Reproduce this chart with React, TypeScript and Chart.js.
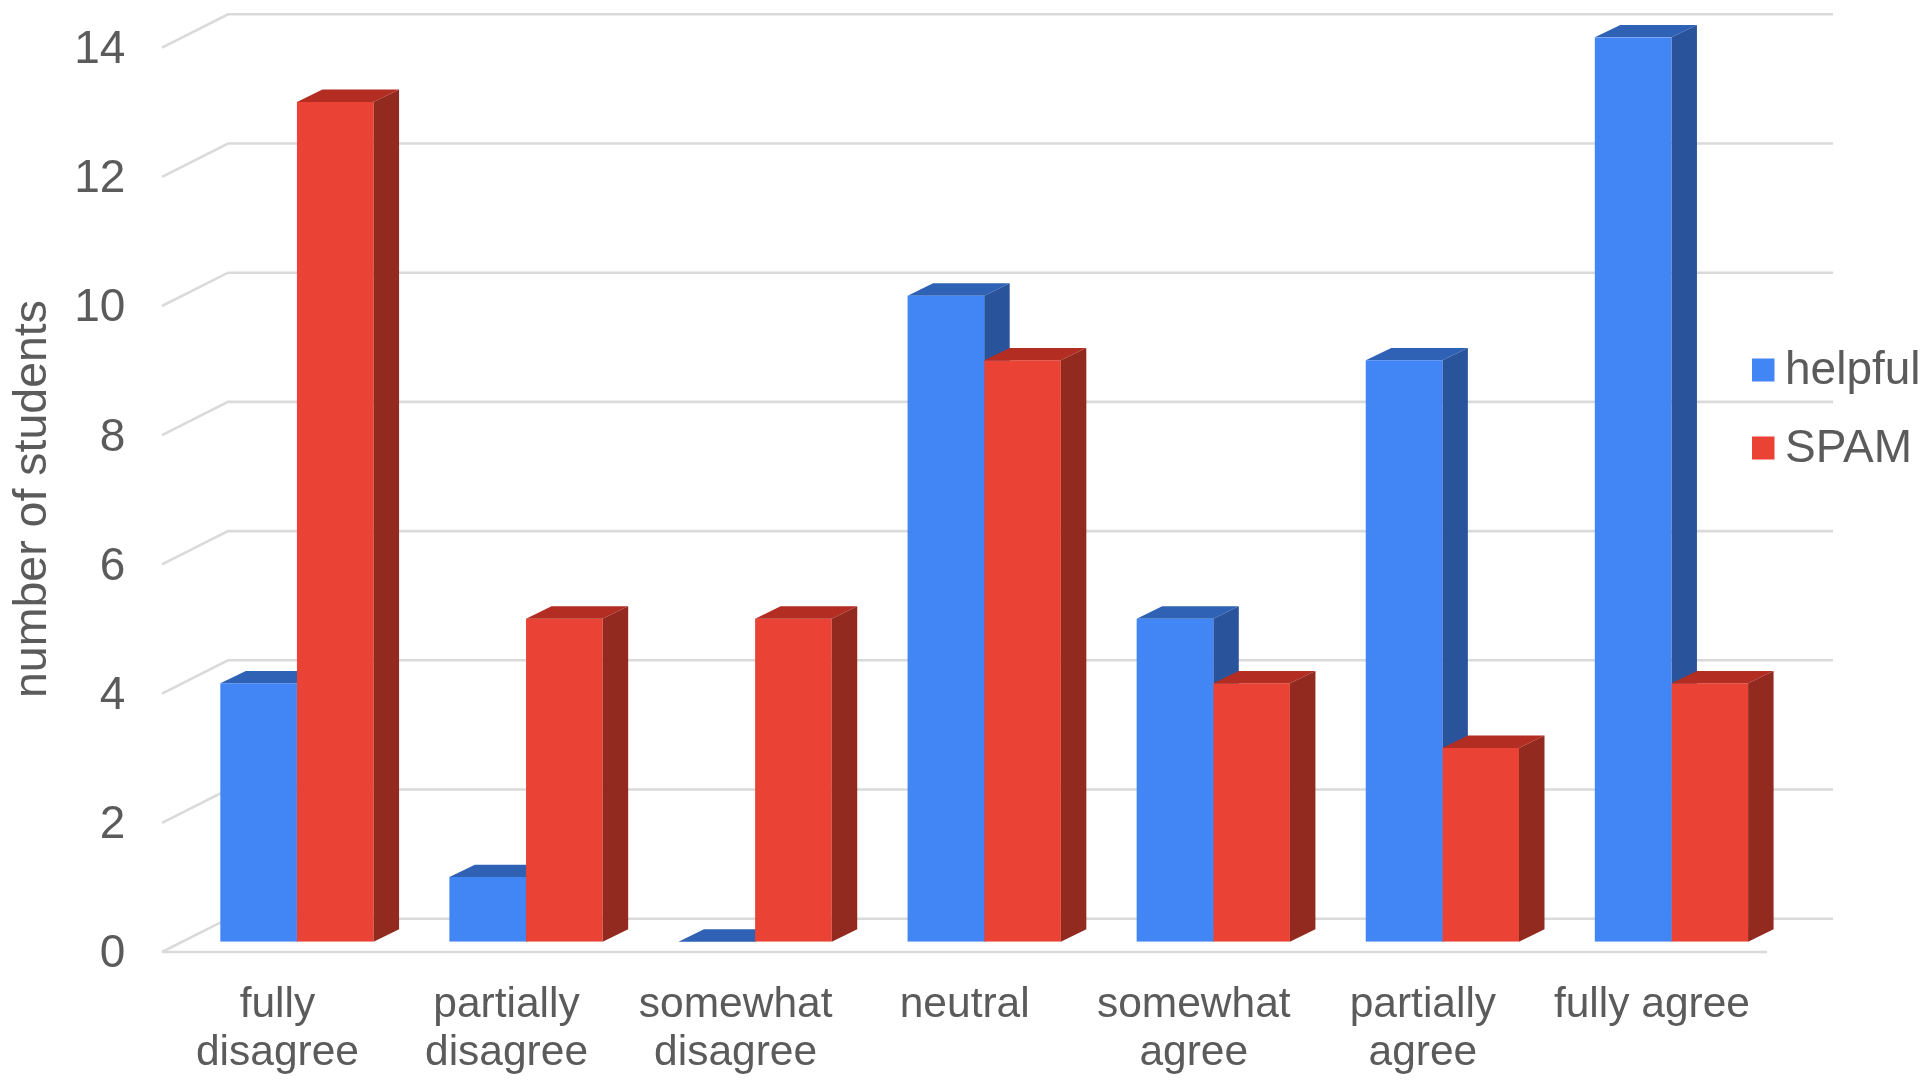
import React, { useEffect, useRef } from "react";
import { Chart, registerables } from "chart.js";

Chart.register(...registerables);

const categories: (string | string[])[] = [
  ["fully", "disagree"],
  ["partially", "disagree"],
  ["somewhat", "disagree"],
  "neutral",
  ["somewhat", "agree"],
  ["partially", "agree"],
  "fully agree",
];
const helpfulValues = [4, 1, 0, 10, 5, 9, 14];
const spamValues = [13, 5, 5, 9, 4, 3, 4];
const yAxisTitle = "number of students";

const FONT = '"Liberation Sans", Arial, sans-serif';
const TEXT = "#5b5b5b";
const GRID = "#dadada";
const DEPTH_X = 25.5;
const DEPTH_Y = 12.4;

const shades = [
  { top: "#2f62b5", side: "#29549c" },
  { top: "#b32d22", side: "#932a20" },
];

function drawDepth(chart: any, index: number) {
  const { ctx } = chart;
  const meta = chart.getDatasetMeta(index);
  ctx.save();
  meta.data.forEach((bar: any) => {
    const left = bar.x - bar.width / 2;
    const right = bar.x + bar.width / 2;
    const top = bar.y;
    const base = bar.base;
    ctx.fillStyle = shades[index].top;
    ctx.beginPath();
    ctx.moveTo(left, top);
    ctx.lineTo(left + DEPTH_X, top - DEPTH_Y);
    ctx.lineTo(right + DEPTH_X, top - DEPTH_Y);
    ctx.lineTo(right, top);
    ctx.closePath();
    ctx.fill();
    if (base - top > 0) {
      ctx.fillStyle = shades[index].side;
      ctx.beginPath();
      ctx.moveTo(right, top);
      ctx.lineTo(right + DEPTH_X, top - DEPTH_Y);
      ctx.lineTo(right + DEPTH_X, base - DEPTH_Y);
      ctx.lineTo(right, base);
      ctx.closePath();
      ctx.fill();
    }
  });
  ctx.restore();
}

const wallPlugin = {
  id: "wall3d",
  beforeDatasetsDraw(chart: any) {
    const { ctx, chartArea, scales } = chart;
    const frontLeft = chartArea.left - 20.4;
    const backLeft = chartArea.left + 45.6;
    const backRight = 1833;
    const frontRight = 1767;
    ctx.save();
    ctx.strokeStyle = GRID;
    ctx.lineWidth = 2.6;
    scales.y.ticks.forEach((tick: any) => {
      const y = scales.y.getPixelForValue(tick.value);
      ctx.beginPath();
      ctx.moveTo(frontLeft, y + 10.3);
      ctx.lineTo(backLeft, y - 23);
      ctx.lineTo(backRight, y - 23);
      ctx.stroke();
      if (tick.value === 0) {
        ctx.beginPath();
        ctx.moveTo(frontLeft, y + 10.3);
        ctx.lineTo(frontRight, y + 10.3);
        ctx.stroke();
      }
    });
    ctx.restore();
    drawDepth(chart, 0);
  },
  afterDatasetsDraw(chart: any) {
    drawDepth(chart, 1);
  },
  afterDraw(chart: any) {
    const { ctx, data } = chart;
    ctx.save();
    // axis title
    ctx.fillStyle = TEXT;
    ctx.font = `46.5px ${FONT}`;
    ctx.textAlign = "center";
    ctx.textBaseline = "middle";
    ctx.translate(33, 499);
    ctx.rotate(-Math.PI / 2);
    ctx.fillText(yAxisTitle, 0, 0);
    ctx.restore();
    // legend
    ctx.save();
    ctx.font = `46px ${FONT}`;
    ctx.textAlign = "left";
    ctx.textBaseline = "middle";
    data.datasets.forEach((ds: any, i: number) => {
      const cy = 370 + i * 78;
      ctx.fillStyle = ds.backgroundColor;
      ctx.fillRect(1752, cy - 11.5, 22.5, 23);
      ctx.fillStyle = TEXT;
      ctx.fillText(ds.label, 1785, cy + 1);
    });
    ctx.restore();
  },
};

export default function App() {
  const ref = useRef<HTMLCanvasElement | null>(null);

  useEffect(() => {
    document.body.style.margin = "0";
    const chart = new Chart(ref.current as HTMLCanvasElement, {
      type: "bar",
      data: {
        labels: categories as any,
        datasets: [
          { label: "helpful", data: helpfulValues, backgroundColor: "#4285f4", borderWidth: 0 },
          { label: "SPAM", data: spamValues, backgroundColor: "#ea4335", borderWidth: 0 },
        ],
      },
      options: {
        responsive: false,
        animation: false,
        layout: { padding: { top: 37.3, right: 146, left: 0, bottom: 0 } },
        datasets: { bar: { barPercentage: 1, categoryPercentage: 0.669 } },
        plugins: { legend: { display: false }, tooltip: { enabled: false } },
        scales: {
          x: {
            grid: { display: false, drawTicks: false },
            border: { display: false },
            afterFit: (s: any) => {
              s.height = 145.3;
              s.paddingLeft = s.paddingRight = s.paddingTop = s.paddingBottom = 0;
            },
            ticks: {
              autoSkip: false,
              maxRotation: 0,
              minRotation: 0,
              padding: 39,
              labelOffset: -19.5,
              color: TEXT,
              font: { family: FONT, size: 42.5, lineHeight: 1.14 },
            },
          },
          y: {
            min: 0,
            max: 14,
            grid: { display: false, drawTicks: false },
            border: { display: false },
            afterFit: (s: any) => {
              s.width = 182.4;
              s.paddingLeft = s.paddingRight = s.paddingTop = s.paddingBottom = 0;
            },
            ticks: {
              stepSize: 2,
              padding: 57,
              labelOffset: 13,
              color: TEXT,
              font: { family: FONT, size: 46 },
            },
          },
        },
      } as any,
      plugins: [wallPlugin],
    });
    return () => chart.destroy();
  }, []);

  return <canvas ref={ref} width={1932} height={1087} style={{ display: "block" }} />;
}
